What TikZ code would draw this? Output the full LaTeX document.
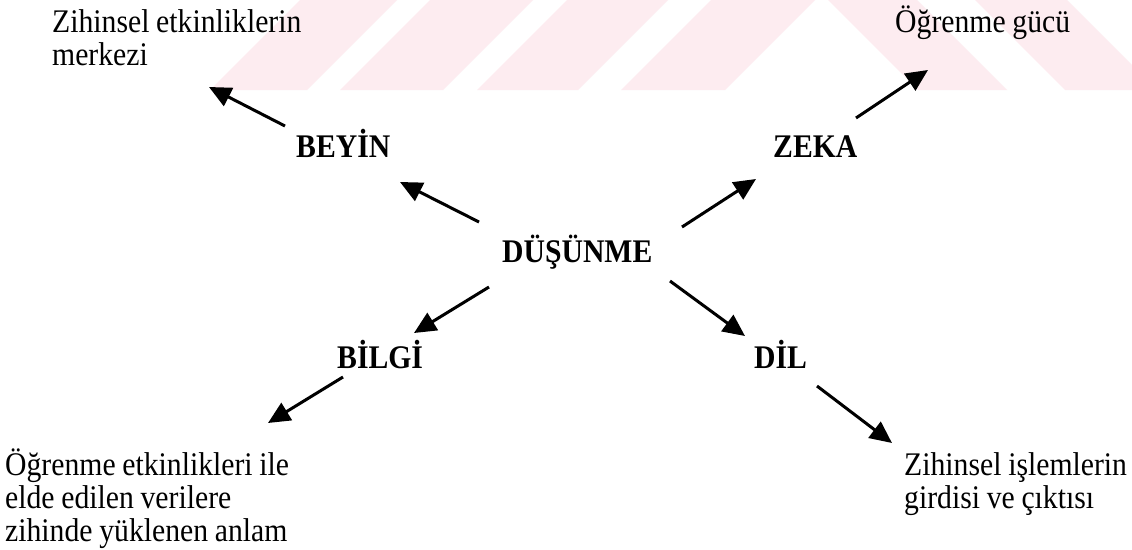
\documentclass[tikz,border=0pt]{standalone}
\usepackage{fontspec}
\setmainfont{Liberation Serif}[FakeStretch=0.9,WordSpace=0.9]
\usetikzlibrary{arrows.meta}
\definecolor{wm}{RGB}{253,236,240}
\newcommand\txtlines[1]{\begin{tabular}[t]{@{}l@{}}#1\end{tabular}}
\tikzset{
  concept/.style={font=\fontsize{33}{33}\selectfont\bfseries, anchor=base west, inner sep=0pt},
  note/.style={font=\fontsize{33}{33}\selectfont, anchor=base west, inner sep=0pt},
  arr/.style={line width=3pt, -{Triangle[length=22pt,width=20pt]}},
  band/.style={fill=wm, draw=none}
}
\begin{document}
\begin{tikzpicture}[x=1pt,y=-1pt]
\useasboundingbox (0,0) rectangle (1132,549);
\fill[white] (0,0) rectangle (1132,549);
% watermark bands
\begin{scope}
  \clip (0,0) rectangle (1132,90);
  \foreach \a/\b in {300/397,430/533,567/668,711/815}
    \fill[band] (\a,0) -- (\b,0) -- (\b-90,90) -- (\a-90,90) -- cycle;
  \foreach \a/\b in {828/917,975/1067}
    \fill[band] (\a,0) -- (\b,0) -- (\b+90,90) -- (\a+90,90) -- cycle;
\end{scope}
% texts
\node[note] (zihin) at (52,32) {\txtlines{Zihinsel etkinliklerin\\merkezi}};
\node[note] (gucu) at (895,32) {Öğrenme gücü};
\node[concept] (beyin) at (296,157) {BEYİN};
\node[concept] (zeka) at (773,157) {ZEKA};
\node[concept] (dus) at (502,262) {DÜŞÜNME};
\node[concept] (bilgi) at (337,368) {BİLGİ};
\node[concept] (dil) at (754,368) {DİL};
\node[note] (anlam) at (5,475) {\txtlines{Öğrenme etkinlikleri ile\\elde edilen verilere\\zihinde yüklenen anlam}};
\node[note] (islem) at (904,475) {\txtlines{Zihinsel işlemlerin\\girdisi ve çıktısı}};
% arrow end points
\coordinate (b1) at (285,126); \coordinate (b2) at (209,87);
\coordinate (d1) at (479,222); \coordinate (d2) at (400,182);
\coordinate (z1) at (682,227); \coordinate (z2) at (756,179);
\coordinate (g1) at (856,118); \coordinate (g2) at (928,70);
\coordinate (i1) at (489,287); \coordinate (i2) at (414,333);
\coordinate (l1) at (670,281); \coordinate (l2) at (745,336);
\coordinate (a1) at (343,377); \coordinate (a2) at (268,423);
\coordinate (s1) at (817,386); \coordinate (s2) at (892,443);
\draw[arr] (b1) -- (b2);
\draw[arr] (d1) -- (d2);
\draw[arr] (z1) -- (z2);
\draw[arr] (g1) -- (g2);
\draw[arr] (i1) -- (i2);
\draw[arr] (l1) -- (l2);
\draw[arr] (a1) -- (a2);
\draw[arr] (s1) -- (s2);
\end{tikzpicture}
\end{document}
